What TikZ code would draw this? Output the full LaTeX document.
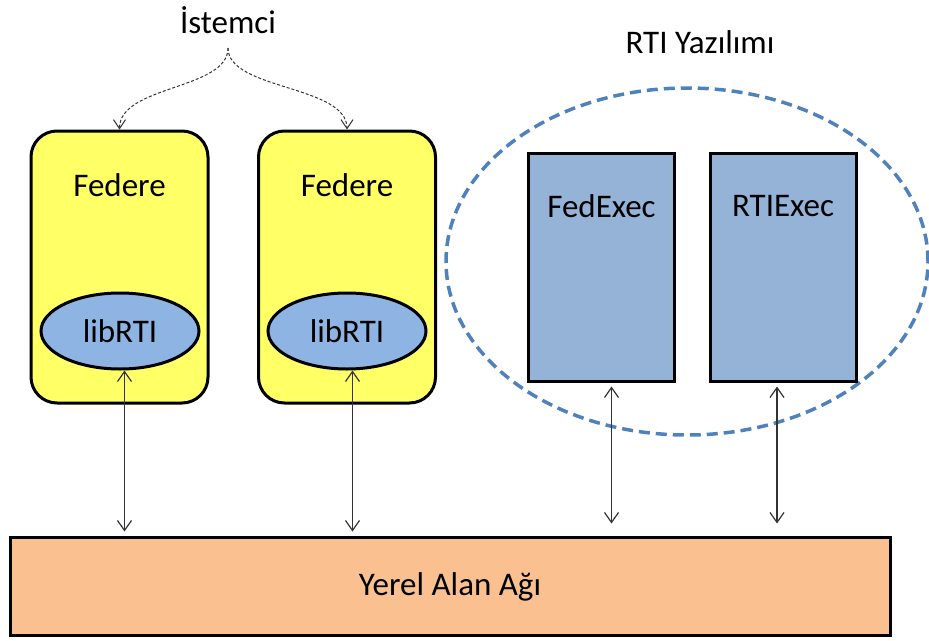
\documentclass[tikz,border=0pt]{standalone}
\usepackage{fontspec}
\setmainfont{Carlito}
\usetikzlibrary{shapes.geometric,arrows.meta}
\definecolor{fedyellow}{HTML}{FFFF66}
\definecolor{libblue}{HTML}{8DB4E2}
\definecolor{execblue}{HTML}{95B3D7}
\definecolor{rtiring}{HTML}{4F81BD}
\definecolor{lanorange}{HTML}{FAC090}
\definecolor{linkgray}{HTML}{333333}
\tikzset{
  lbl/.style={font=\fontsize{33}{36}\selectfont, inner sep=0pt},
  fedbox/.style={draw=black, line width=3pt, fill=fedyellow, rounded corners=26pt,
    minimum width=177pt, minimum height=272pt, inner sep=0pt},
  libell/.style={ellipse, draw=black, line width=3pt, fill=libblue,
    minimum width=158pt, minimum height=76pt, inner sep=0pt},
  execbox/.style={draw=black, line width=3pt, fill=execblue,
    minimum width=146pt, minimum height=228pt, inner sep=0pt},
  link/.style={draw=linkgray, line width=1.2pt,
    {Straight Barb[length=10pt,width=14pt]}-{Straight Barb[length=10pt,width=14pt]}},
  hint/.style={draw=linkgray, line width=1pt, dash pattern=on 3pt off 2pt,
    -{Straight Barb[length=9pt,width=12pt]}}
}
\begin{document}
\begin{tikzpicture}[x=1pt,y=-1pt]
\useasboundingbox (0,0) rectangle (929,640);

% software ring around the executives
\node[ellipse, draw=rtiring, line width=3.5pt, dash pattern=on 11pt off 6pt,
  minimum width=482pt, minimum height=347pt, inner sep=0pt] (ring) at (687,261.5) {};
\node[lbl] (ringtxt) at (700,42) {RTI Yazılımı};

% federates with their local RTI libraries
\node[fedbox] (fed1) at (119.5,267) {};
\node[fedbox] (fed2) at (347,267) {};
\node[lbl] (fedtxt1) at (119.5,185) {Federe};
\node[lbl] (fedtxt2) at (347,185) {Federe};
\node[libell] (lib1) at (120,331) {};
\node[libell] (lib2) at (347,331) {};
\node[lbl] at (lib1) {libRTI};
\node[lbl] at (lib2) {libRTI};

% executive processes
\node[execbox] (fedexec) at (601.5,267) {};
\node[execbox] (rtiexec) at (783,267) {};
\node[lbl] (fedexectxt) at (601.5,206) {FedExec};
\node[lbl] (rtiexectxt) at (783,206) {RTIExec};

% local area network
\node[draw=black, line width=3pt, fill=lanorange, minimum width=880pt,
  minimum height=98pt, inner sep=0pt] (lan) at (450,586) {};
\node[lbl] (lantxt) at (450,587) {Yerel Alan Ağı};

% client annotation
\node[lbl] (ist) at (228,20) {İstemci};
\coordinate (apex) at (228,48);
\draw[hint] (apex) .. controls (228,90) and (119.5,85) .. (fed1.north);
\draw[hint] (apex) .. controls (228,90) and (347,85) .. (fed2.north);

% network links (canvas y points up, so a positive yshift moves a point up)
\draw[link] ([xshift=4.5pt]lib1.south) -- ([xshift=4.5pt,yshift=4pt]lib1.south |- lan.north);
\draw[link] ([xshift=5.5pt]lib2.south) -- ([xshift=5.5pt,yshift=4pt]lib2.south |- lan.north);
\draw[link] ([xshift=10pt,yshift=-4pt]fedexec.south) -- ([xshift=10pt,yshift=12pt]fedexec.south |- lan.north);
\draw[link] ([xshift=-6pt,yshift=-4pt]rtiexec.south) -- ([xshift=-6pt,yshift=12pt]rtiexec.south |- lan.north);
\end{tikzpicture}
\end{document}
